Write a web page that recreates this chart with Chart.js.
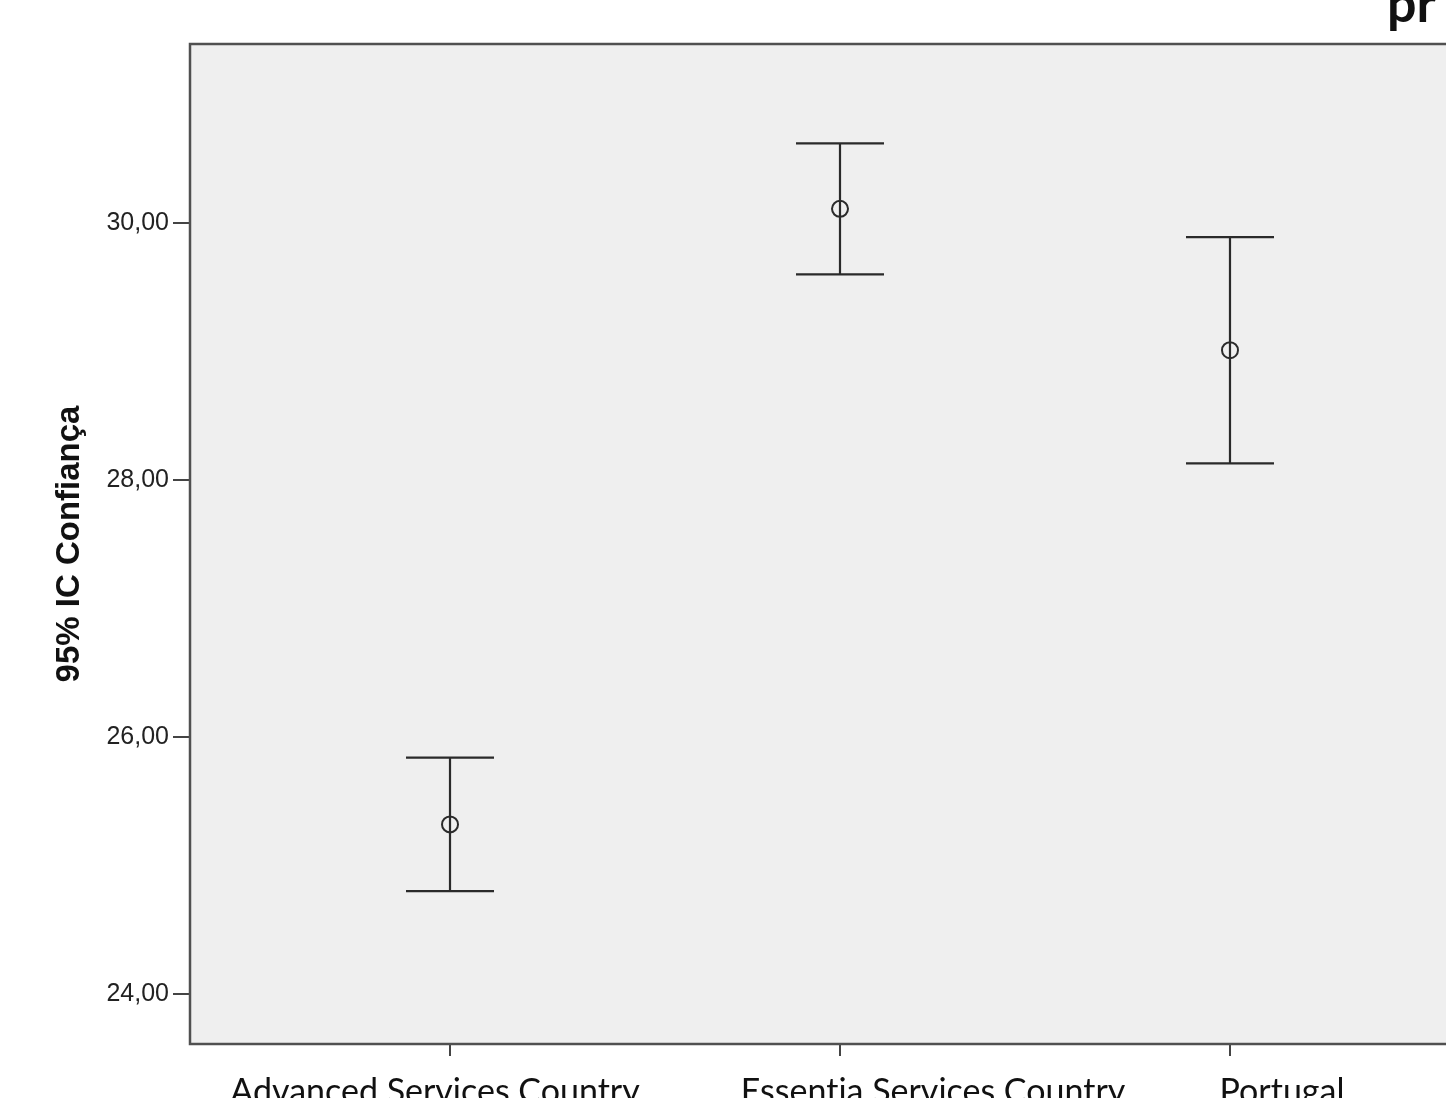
<!DOCTYPE html>
<html>
<head>
<meta charset="utf-8">
<script src="https://cdn.jsdelivr.net/npm/chart.js@4/dist/chart.umd.min.js"></script>
<style>
  html, body { margin: 0; padding: 0; background: #fff; overflow: hidden; }
  #wrap { position: relative; width: 1500px; height: 1098px; }
  #corner { position: absolute; left: 1387px; top: -24px; font: bold 52px Lato, "Open Sans", sans-serif; color: #111; line-height: 1; }
</style>
</head>
<body>
<div id="wrap">
  <canvas id="chart" width="1500" height="1098"></canvas>
  <div id="corner">pr</div>
</div>
<script>
// groups on the x axis
const categories = ['Advanced Services Country', 'Essentia Services Country', 'Portugal'];
// mean and 95% confidence limits per group
const means = [25.32, 30.11, 29.01];
const lower = [24.80, 29.60, 28.13];
const upper = [25.84, 30.62, 29.89];
// value ticks
const yTicks = [24, 26, 28, 30];

// label nudges (px) — the source has them off-centre
const labelShift = [-15, 93, 52];
const ink = '#2a2a2a';

const plotFrame = {
  id: 'plotFrame',
  beforeDatasetsDraw(chart) {
    const { ctx, chartArea: a } = chart;
    ctx.save();
    ctx.fillStyle = '#efefef';
    ctx.fillRect(a.left, a.top, a.right - a.left, a.bottom - a.top);
    ctx.restore();
  },
  afterDatasetsDraw(chart) {
    const { ctx, chartArea: a, scales: { x, y } } = chart;
    ctx.save();
    // error bars
    ctx.strokeStyle = ink;
    ctx.lineWidth = 2.2;
    categories.forEach((c, i) => {
      const px = x.getPixelForValue(i);
      const top = y.getPixelForValue(upper[i]);
      const bot = y.getPixelForValue(lower[i]);
      ctx.beginPath();
      ctx.moveTo(px, top); ctx.lineTo(px, bot);
      ctx.moveTo(px - 44, top); ctx.lineTo(px + 44, top);
      ctx.moveTo(px - 44, bot); ctx.lineTo(px + 44, bot);
      ctx.stroke();
    });
    // frame
    ctx.strokeStyle = '#505050';
    ctx.lineWidth = 2.5;
    ctx.strokeRect(a.left, a.top, a.right - a.left, a.bottom - a.top);
    ctx.restore();
  },
  afterDraw(chart) {
    const { ctx, scales: { x } } = chart;
    ctx.save();
    ctx.fillStyle = '#111';
    ctx.font = '34px Lato, "Open Sans", sans-serif';
    ctx.textAlign = 'center';
    ctx.textBaseline = 'alphabetic';
    categories.forEach((c, i) => {
      // break the "ti" ligature Lato would otherwise use
      ctx.fillText(c.replace(/ti/g, 't\u200Ci'), x.getPixelForValue(i) + labelShift[i], 1103);
    });
    ctx.restore();
  }
};

new Chart(document.getElementById('chart'), {
  type: 'scatter',
  data: {
    datasets: [{
      data: means.map((m, i) => ({ x: i, y: m })),
      pointStyle: 'circle',
      pointRadius: 8,
      pointHoverRadius: 8,
      pointBorderWidth: 2,
      borderColor: ink,
      backgroundColor: 'rgba(0,0,0,0)',
      showLine: false,
    }]
  },
  options: {
    responsive: false,
    devicePixelRatio: 1,
    animation: false,
    layout: { padding: { left: 0, right: 10, top: 44, bottom: 0 } },
    plugins: { legend: { display: false }, tooltip: { enabled: false } },
    scales: {
      x: {
        type: 'linear',
        min: -0.6667,
        max: 2.6667,
        afterBuildTicks: s => { s.ticks = categories.map((c, i) => ({ value: i })); },
        afterFit: s => { s.height = 54; },
        border: { display: false },
        grid: { drawOnChartArea: false, drawTicks: true, tickLength: 12, color: '#444', lineWidth: 2 },
        ticks: { display: false },
      },
      y: {
        min: 23.611,
        max: 31.393,
        afterBuildTicks: s => { s.ticks = yTicks.map(v => ({ value: v })); },
        afterFit: s => { s.width = 190; },
        border: { display: false },
        grid: { drawOnChartArea: false, drawTicks: true, tickLength: 17, color: '#444', lineWidth: 2 },
        ticks: {
          padding: 4,
          color: '#222',
          font: { family: '"Liberation Sans", Arial, sans-serif', size: 25 },
          callback: v => v.toFixed(2).replace('.', ','),
        },
        title: {
          display: true,
          text: '95% IC Confiança',
          color: '#111',
          font: { family: '"Liberation Sans", Arial, sans-serif', size: 33, weight: 'bold' },
          padding: { top: 50, bottom: 0 },
        },
      },
    },
  },
  plugins: [plotFrame],
});
</script>
</body>
</html>
